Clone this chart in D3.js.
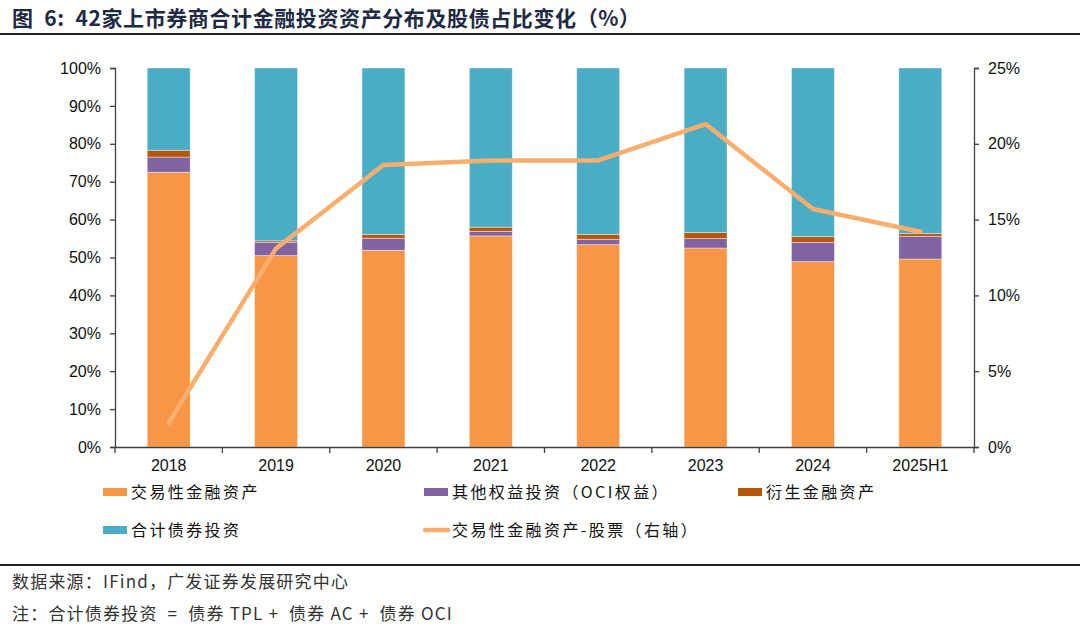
<!DOCTYPE html>
<html>
<head>
<meta charset="utf-8">
<script src="https://cdn.jsdelivr.net/npm/d3@7"></script>
<style>
  body { margin: 0; background: #fff; }
  text { font-family: "Liberation Sans", Arial, sans-serif; }
  .cjk { font-family: "Noto Sans CJK SC", sans-serif; }
</style>
</head>
<body>
<div id="chart"></div>
<script>
// data
var years = ["2018", "2019", "2020", "2021", "2022", "2023", "2024", "2025H1"];
var tradingAssets = [72.5, 50.5, 51.9, 55.7, 53.4, 52.5, 48.9, 49.6];
var otherEquity = [4.0, 3.5, 3.2, 1.2, 1.4, 2.5, 5.1, 6.0];
var derivatives = [1.8, 0.4, 1.0, 1.1, 1.3, 1.6, 1.5, 0.7];
var bondTotal = years.map(function (d, i) {
    return 100 - tradingAssets[i] - otherEquity[i] - derivatives[i];
});
var stockShare = [1.6, 13.1, 18.6, 18.9, 18.9, 21.3, 15.7, 14.2];

var leftTicks = [0, 10, 20, 30, 40, 50, 60, 70, 80, 90, 100];
var rightTicks = [0, 5, 10, 15, 20, 25];

var seriesKeys = ["trading", "other", "deriv", "bond"];
var seriesNames = {
    trading: "交易性金融资产",
    other: "其他权益投资（OCI权益）",
    deriv: "衍生金融资产",
    bond: "合计债券投资"
};
var colors = {
    trading: "#F79646",
    other: "#8064A2",
    deriv: "#B65708",
    bond: "#4BACC6"
};
var lineColor = "#FAAE6E";

var svgWidth = 1080;
var svgHeight = 630;
var margin = { top: 68, right: 106, bottom: 183, left: 115 };
var width = svgWidth - margin.left - margin.right;
var height = svgHeight - margin.top - margin.bottom;

var svg = d3.select("#chart")
    .append("svg")
    .attr("width", svgWidth)
    .attr("height", svgHeight);

// title and rules
svg.append("text")
    .attr("class", "cjk")
    .attr("x", 12)
    .attr("y", 26)
    .attr("font-size", 21)
    .attr("font-weight", "bold")
    .attr("letter-spacing", 0.6)
    .attr("fill", "#1F2A44")
    .style("white-space", "pre")
    .text("图  6:  42家上市券商合计金融投资资产分布及股债占比变化（%）");

svg.append("line")
    .attr("x1", 0).attr("x2", svgWidth)
    .attr("y1", 34).attr("y2", 34)
    .attr("stroke", "#222").attr("stroke-width", 2);

svg.append("line")
    .attr("x1", 0).attr("x2", svgWidth)
    .attr("y1", 565).attr("y2", 565)
    .attr("stroke", "#222").attr("stroke-width", 2);

svg.append("text")
    .attr("class", "cjk")
    .attr("x", 12).attr("y", 588)
    .attr("font-size", 17)
    .attr("letter-spacing", 1.2)
    .attr("fill", "#333")
    .text("数据来源：IFind，广发证券发展研究中心");

svg.append("text")
    .attr("class", "cjk")
    .attr("x", 12).attr("y", 620)
    .attr("font-size", 17)
    .attr("letter-spacing", 1.2)
    .attr("fill", "#333")
    .style("white-space", "pre")
    .text("注：合计债券投资  =  债券 TPL +  债券 AC +  债券 OCI");

var chartGroup = svg.append("g")
    .attr("transform", `translate(${margin.left}, ${margin.top})`);

var xScale = d3.scaleBand()
    .domain(years)
    .range([0, width])
    .paddingInner(0.6)
    .paddingOuter(0.3);

var yLeft = d3.scaleLinear().domain([0, 100]).range([height, 0]);
var yRight = d3.scaleLinear().domain([0, 25]).range([height, 0]);

// stacked data
var table = years.map(function (y, i) {
    return {
        year: y,
        trading: tradingAssets[i],
        other: otherEquity[i],
        deriv: derivatives[i],
        bond: bondTotal[i]
    };
});
var stacked = d3.stack().keys(seriesKeys)(table);

chartGroup.selectAll(".layer")
    .data(stacked)
    .enter()
    .append("g")
    .attr("class", "layer")
    .attr("fill", d => colors[d.key])
    .selectAll("rect")
    .data(d => d)
    .enter()
    .append("rect")
    .attr("x", d => xScale(d.data.year))
    .attr("width", xScale.bandwidth())
    .attr("y", d => yLeft(d[1]))
    .attr("height", d => yLeft(d[0]) - yLeft(d[1]))
    .attr("stroke", "#fff")
    .attr("stroke-opacity", 0.5)
    .attr("stroke-width", 0.8);

// axes
var axisColor = "#404040";

var leftAxis = d3.axisLeft(yLeft)
    .tickValues(leftTicks)
    .tickFormat(d => d + "%")
    .tickSizeOuter(0)
    .tickSize(5)
    .tickPadding(9);
var gLeft = chartGroup.append("g").call(leftAxis);

var rightAxis = d3.axisRight(yRight)
    .tickValues(rightTicks)
    .tickFormat(d => d + "%")
    .tickSizeOuter(0)
    .tickSize(5)
    .tickPadding(9);
var gRight = chartGroup.append("g")
    .attr("transform", `translate(${width}, 0)`)
    .call(rightAxis);

var bottomAxis = d3.axisBottom(xScale).tickSize(0).tickPadding(13);
var gBottom = chartGroup.append("g")
    .attr("transform", `translate(0, ${height})`)
    .call(bottomAxis);

// category boundary ticks on x axis
var bounds = d3.range(years.length + 1).map(i => i * width / years.length);
gBottom.selectAll(".bound")
    .data(bounds)
    .enter()
    .append("line")
    .attr("class", "bound")
    .attr("x1", d => d).attr("x2", d => d)
    .attr("y1", 0).attr("y2", 6)
    .attr("stroke", axisColor)
    .attr("stroke-width", 1.3);

[gLeft, gRight, gBottom].forEach(function (g) {
    g.select(".domain").attr("stroke", axisColor).attr("stroke-width", 1.3);
    g.selectAll(".tick line").attr("stroke", axisColor).attr("stroke-width", 1.3);
    g.selectAll(".tick text")
        .attr("font-size", 16)
        .attr("fill", "#111")
        .style("font-family", "'Liberation Sans', Arial, sans-serif");
});

// line on right axis
var line = d3.line()
    .x((d, i) => xScale(years[i]) + xScale.bandwidth() / 2)
    .y(d => yRight(d));

chartGroup.append("path")
    .datum(stockShare)
    .attr("d", line)
    .attr("fill", "none")
    .attr("stroke", lineColor)
    .attr("stroke-width", 4.5)
    .attr("stroke-linecap", "round")
    .attr("stroke-linejoin", "round");

// legend
var legendItems = [
    { key: "trading", x: 103, y: 492, type: "rect" },
    { key: "other", x: 424, y: 492, type: "rect" },
    { key: "deriv", x: 738, y: 492, type: "rect" },
    { key: "bond", x: 103, y: 530, type: "rect" },
    { key: "line", x: 424, y: 530, type: "line" }
];

var legend = svg.append("g");
legendItems.forEach(function (item) {
    var g = legend.append("g").attr("transform", `translate(${item.x}, ${item.y})`);
    if (item.type === "rect") {
        g.append("rect")
            .attr("x", 0).attr("y", -4)
            .attr("width", 24).attr("height", 8)
            .attr("fill", colors[item.key]);
    } else {
        g.append("line")
            .attr("x1", 1).attr("x2", 24)
            .attr("y1", 0).attr("y2", 0)
            .attr("stroke", lineColor)
            .attr("stroke-width", 4.5)
            .attr("stroke-linecap", "round");
    }
    g.append("text")
        .attr("class", "cjk")
        .attr("x", 28)
        .attr("y", 6)
        .attr("font-size", 16)
        .attr("letter-spacing", 2.4)
        .attr("fill", "#111")
        .text(item.type === "rect" ? seriesNames[item.key] : "交易性金融资产-股票（右轴）");
});
</script>
</body>
</html>
